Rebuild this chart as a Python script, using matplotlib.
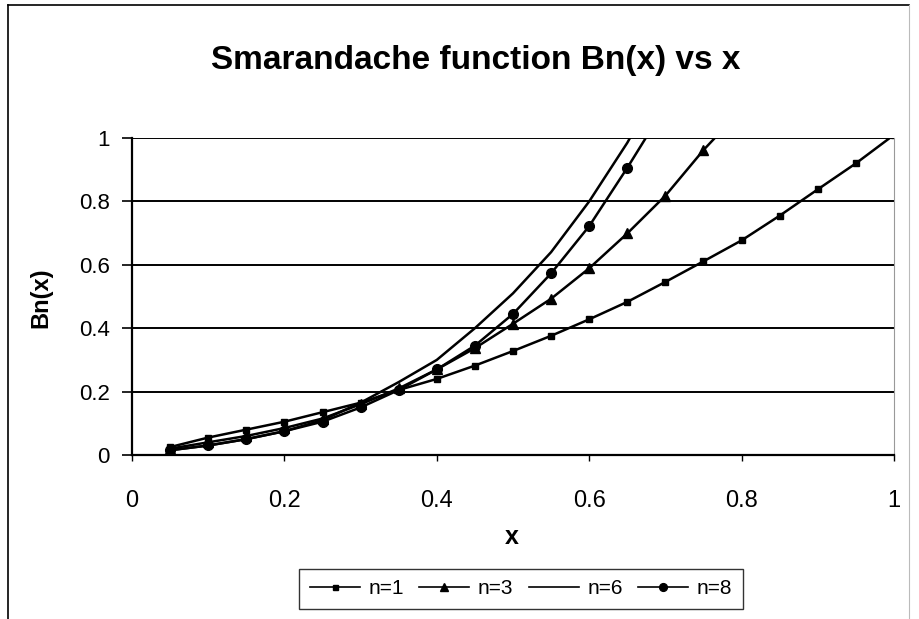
import numpy as np
import matplotlib
matplotlib.use("Agg")
import matplotlib.pyplot as plt
from matplotlib.lines import Line2D

# values
x = [0.05, 0.10, 0.15, 0.20, 0.25, 0.30, 0.35, 0.40, 0.45, 0.50,
     0.55, 0.60, 0.65, 0.70, 0.75, 0.80, 0.85, 0.90, 0.95, 1.00]

b_n1 = [0.025, 0.055, 0.080, 0.105, 0.135, 0.165, 0.205, 0.240, 0.282, 0.328,
        0.376, 0.428, 0.483, 0.546, 0.611, 0.677, 0.755, 0.838, 0.920, 1.010]
b_n3 = [0.020, 0.040, 0.060, 0.085, 0.115, 0.160, 0.210, 0.270, 0.337, 0.414,
        0.493, 0.589, 0.699, 0.818, 0.962, 1.090]
b_n6 = [0.015, 0.030, 0.050, 0.075, 0.110, 0.165, 0.230, 0.300, 0.400, 0.510,
        0.640, 0.800, 0.985, 1.200]
b_n8 = [0.015, 0.030, 0.050, 0.075, 0.105, 0.150, 0.205, 0.270, 0.345, 0.445,
        0.573, 0.722, 0.906, 1.100]

x_ticks = [0, 0.2, 0.4, 0.6, 0.8, 1]
x_ticklabels = ["0", "0.2", "0.4", "0.6", "0.8", "1"]
y_ticks = [0, 0.2, 0.4, 0.6, 0.8, 1]
y_ticklabels = ["0", "0.2", "0.4", "0.6", "0.8", "1"]

plt.rcParams["font.family"] = ["Liberation Sans", "DejaVu Sans"]


def main():
    fig = plt.figure(figsize=(9.2, 6.19), dpi=100)
    ax = fig.add_axes([132 / 920, 1 - 455 / 619, (894 - 132) / 920, (455 - 138) / 619])

    # outer chart frame (left / top visible in the scan)
    fig.add_artist(Line2D([8 / 920, 8 / 920], [0, 1 - 5 / 619], color="black", lw=1.2))
    fig.add_artist(Line2D([8 / 920, 909 / 920], [1 - 5 / 619, 1 - 5 / 619], color="black", lw=1.2))
    fig.add_artist(Line2D([909 / 920, 909 / 920], [0, 1 - 5 / 619], color="#bbbbbb", lw=0.8))

    ax.plot(x[:len(b_n1)], b_n1, color="black", lw=1.8, marker="s", ms=4.5, label="n=1")
    ax.plot(x[:len(b_n3)], b_n3, color="black", lw=1.8, marker="^", ms=6.5, label="n=3")
    ax.plot(x[:len(b_n6)], b_n6, color="black", lw=1.8, label="n=6")
    ax.plot(x[:len(b_n8)], b_n8, color="black", lw=1.8, marker="o", ms=7, label="n=8")

    ax.set_xlim(0, 1)
    ax.set_ylim(0, 1)
    ax.set_yticks(y_ticks)
    ax.set_yticklabels(y_ticklabels)
    ax.set_xticks(x_ticks)
    ax.set_xticklabels(x_ticklabels)
    ax.yaxis.grid(True, color="black", lw=1.4)
    ax.set_axisbelow(True)

    ax.tick_params(axis="y", direction="out", length=7, width=1.2, pad=9, labelsize=16)
    ax.tick_params(axis="x", direction="out", length=4, width=1.0, pad=21, labelsize=17)

    for side in ("left", "bottom"):
        ax.spines[side].set_linewidth(1.6)
        ax.spines[side].set_color("black")
    ax.spines["top"].set_visible(False)
    ax.spines["right"].set_color("#999999")
    ax.spines["right"].set_linewidth(0.8)

    fig.text(476 / 920, 1 - 61 / 619, "Smarandache function Bn(x) vs x",
             ha="center", va="center", fontsize=24, fontweight="bold")
    fig.text(512 / 920, 1 - 537 / 619, "x", ha="center", va="center",
             fontsize=18, fontweight="bold")
    fig.text(41 / 920, 1 - 298 / 619, "Bn(x)", ha="center", va="center",
             rotation=90, fontsize=17, fontweight="bold")

    leg = ax.legend(loc="center", bbox_to_anchor=((521 - 132) / 762, -(589 - 455) / 317),
                    ncol=4, frameon=True, fancybox=False, fontsize=15,
                    handlelength=2.4, handletextpad=0.4, columnspacing=0.75,
                    borderpad=0.5, edgecolor="black")
    leg.get_frame().set_linewidth(1.0)
    for h in leg.legend_handles:
        h.set_linewidth(1.2)
        h.set_markersize(h.get_markersize() * 0.8)

    fig.savefig("out.png", dpi=100)


if __name__ == "__main__":
    main()
